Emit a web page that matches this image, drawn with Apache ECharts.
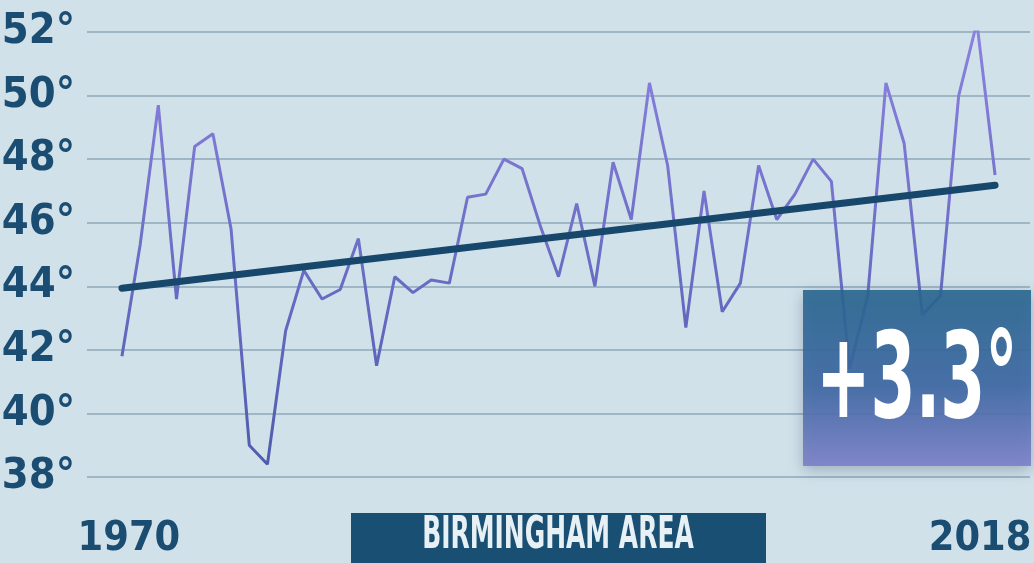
<!DOCTYPE html>
<html>
<head>
<meta charset="utf-8">
<title>Birmingham area temperature</title>
<script src="https://cdn.jsdelivr.net/npm/echarts@6/dist/echarts.min.js"></script>
<style>
  html, body { margin: 0; padding: 0; background: #d0e1ea; }
  #chart { width: 1034px; height: 563px; }
</style>
</head>
<body>
<div id="chart"></div>
<script>
// 年份
const years = [1970, 1971, 1972, 1973, 1974, 1975, 1976, 1977, 1978, 1979,
  1980, 1981, 1982, 1983, 1984, 1985, 1986, 1987, 1988, 1989,
  1990, 1991, 1992, 1993, 1994, 1995, 1996, 1997, 1998, 1999,
  2000, 2001, 2002, 2003, 2004, 2005, 2006, 2007, 2008, 2009,
  2010, 2011, 2012, 2013, 2014, 2015, 2016, 2017, 2018];
// 年平均气温 (°F)
const temps = [41.8, 45.3, 49.7, 43.6, 48.4, 48.8, 45.8, 39.0, 38.4, 42.6,
  44.5, 43.6, 43.9, 45.5, 41.5, 44.3, 43.8, 44.2, 44.1, 46.8,
  46.9, 48.0, 47.7, 45.9, 44.3, 46.6, 44.0, 47.9, 46.1, 50.4,
  47.8, 42.7, 47.0, 43.2, 44.1, 47.8, 46.1, 46.9, 48.0, 47.3,
  41.4, 43.7, 50.4, 48.5, 43.1, 43.7, 50.0, 52.3, 47.5];
// 趋势线
const trendYears = [1970, 2018];
const trendTemps = [43.94, 47.18];
// 坐标轴
const yMin = 38, yMax = 52, yStep = 2;
const xLabelYears = [1970, 2018];
// 文字
const changeLabel = '+3.3°';
const areaLabel = 'BIRMINGHAM AREA';

const FONT = '"Liberation Sans Narrow", "DejaVu Sans Condensed", "Roboto", sans-serif';
const NAVY = '#1b4c71';

let myChart = echarts.init(document.getElementById('chart'));

myChart.setOption({
  backgroundColor: '#d0e1ea',
  animation: false,
  grid: {
    left: 87,
    right: 4,
    top: 32,
    bottom: 86,
    outerBoundsMode: 'none'
  },
  xAxis: {
    type: 'value',
    min: 1968.08,
    max: 2019.92,
    axisLine: { show: false },
    axisTick: { show: false },
    splitLine: { show: false },
    axisLabel: {
      customValues: xLabelYears,
      color: NAVY,
      fontFamily: FONT,
      fontWeight: 'bold',
      fontSize: 41,
      margin: 62,
      verticalAlign: 'middle',
      formatter: function (v) {
        return v === xLabelYears[0] ? '{first|' + v + '}' : '{last|' + v + '}';
      },
      rich: {
        first: { padding: [0, 0, 0, 14] },
        last: { padding: [0, 30, 0, 0] }
      }
    }
  },
  yAxis: {
    type: 'value',
    min: yMin,
    max: yMax,
    interval: yStep,
    axisLine: { show: false },
    axisTick: { show: false },
    axisLabel: {
      color: NAVY,
      fontFamily: FONT,
      fontWeight: 'bold',
      fontSize: 43,
      margin: 12,
      formatter: '{value}°'
    },
    splitLine: {
      lineStyle: { color: '#9fb6c4', width: 2 }
    }
  },
  series: [
    {
      name: 'temp',
      type: 'line',
      data: years.map(function (y, i) { return [y, temps[i]]; }),
      showSymbol: false,
      z: 2,
      lineStyle: {
        width: 3,
        color: new echarts.graphic.LinearGradient(0, 0, 0, 1, [
          { offset: 0, color: '#8d82e0' },
          { offset: 1, color: '#4f5cae' }
        ])
      }
    },
    {
      name: 'trend',
      type: 'line',
      data: trendYears.map(function (y, i) { return [y, trendTemps[i]]; }),
      showSymbol: false,
      z: 3,
      lineStyle: {
        width: 7,
        color: '#17476b',
        cap: 'round'
      }
    }
  ],
  graphic: [
    {
      type: 'rect',
      z: 100,
      shape: { x: 803, y: 290, width: 228, height: 176 },
      style: {
        opacity: 0.9,
        fill: new echarts.graphic.LinearGradient(0, 0, 0, 1, [
          { offset: 0, color: '#28668f' },
          { offset: 0.55, color: '#3e68a4' },
          { offset: 1, color: '#7c80c9' }
        ]),
        shadowBlur: 14,
        shadowOffsetY: 4,
        shadowColor: 'rgba(20,40,70,0.3)'
      }
    },
    {
      type: 'text',
      z: 101,
      x: 917,
      y: 386,
      scaleX: 0.6,
      style: {
        text: changeLabel,
        fill: '#ffffff',
        font: 'bold 120px ' + FONT,
        textAlign: 'center',
        textVerticalAlign: 'middle'
      }
    },
    {
      type: 'rect',
      z: 100,
      shape: { x: 351, y: 513, width: 415, height: 50 },
      style: { fill: '#1a4f74' }
    },
    {
      type: 'text',
      z: 101,
      x: 558,
      y: 537,
      scaleX: 0.63,
      style: {
        text: areaLabel,
        fill: '#e6f0f5',
        font: 'bold 44px ' + FONT,
        textAlign: 'center',
        textVerticalAlign: 'middle'
      }
    }
  ]
});
</script>
</body>
</html>
